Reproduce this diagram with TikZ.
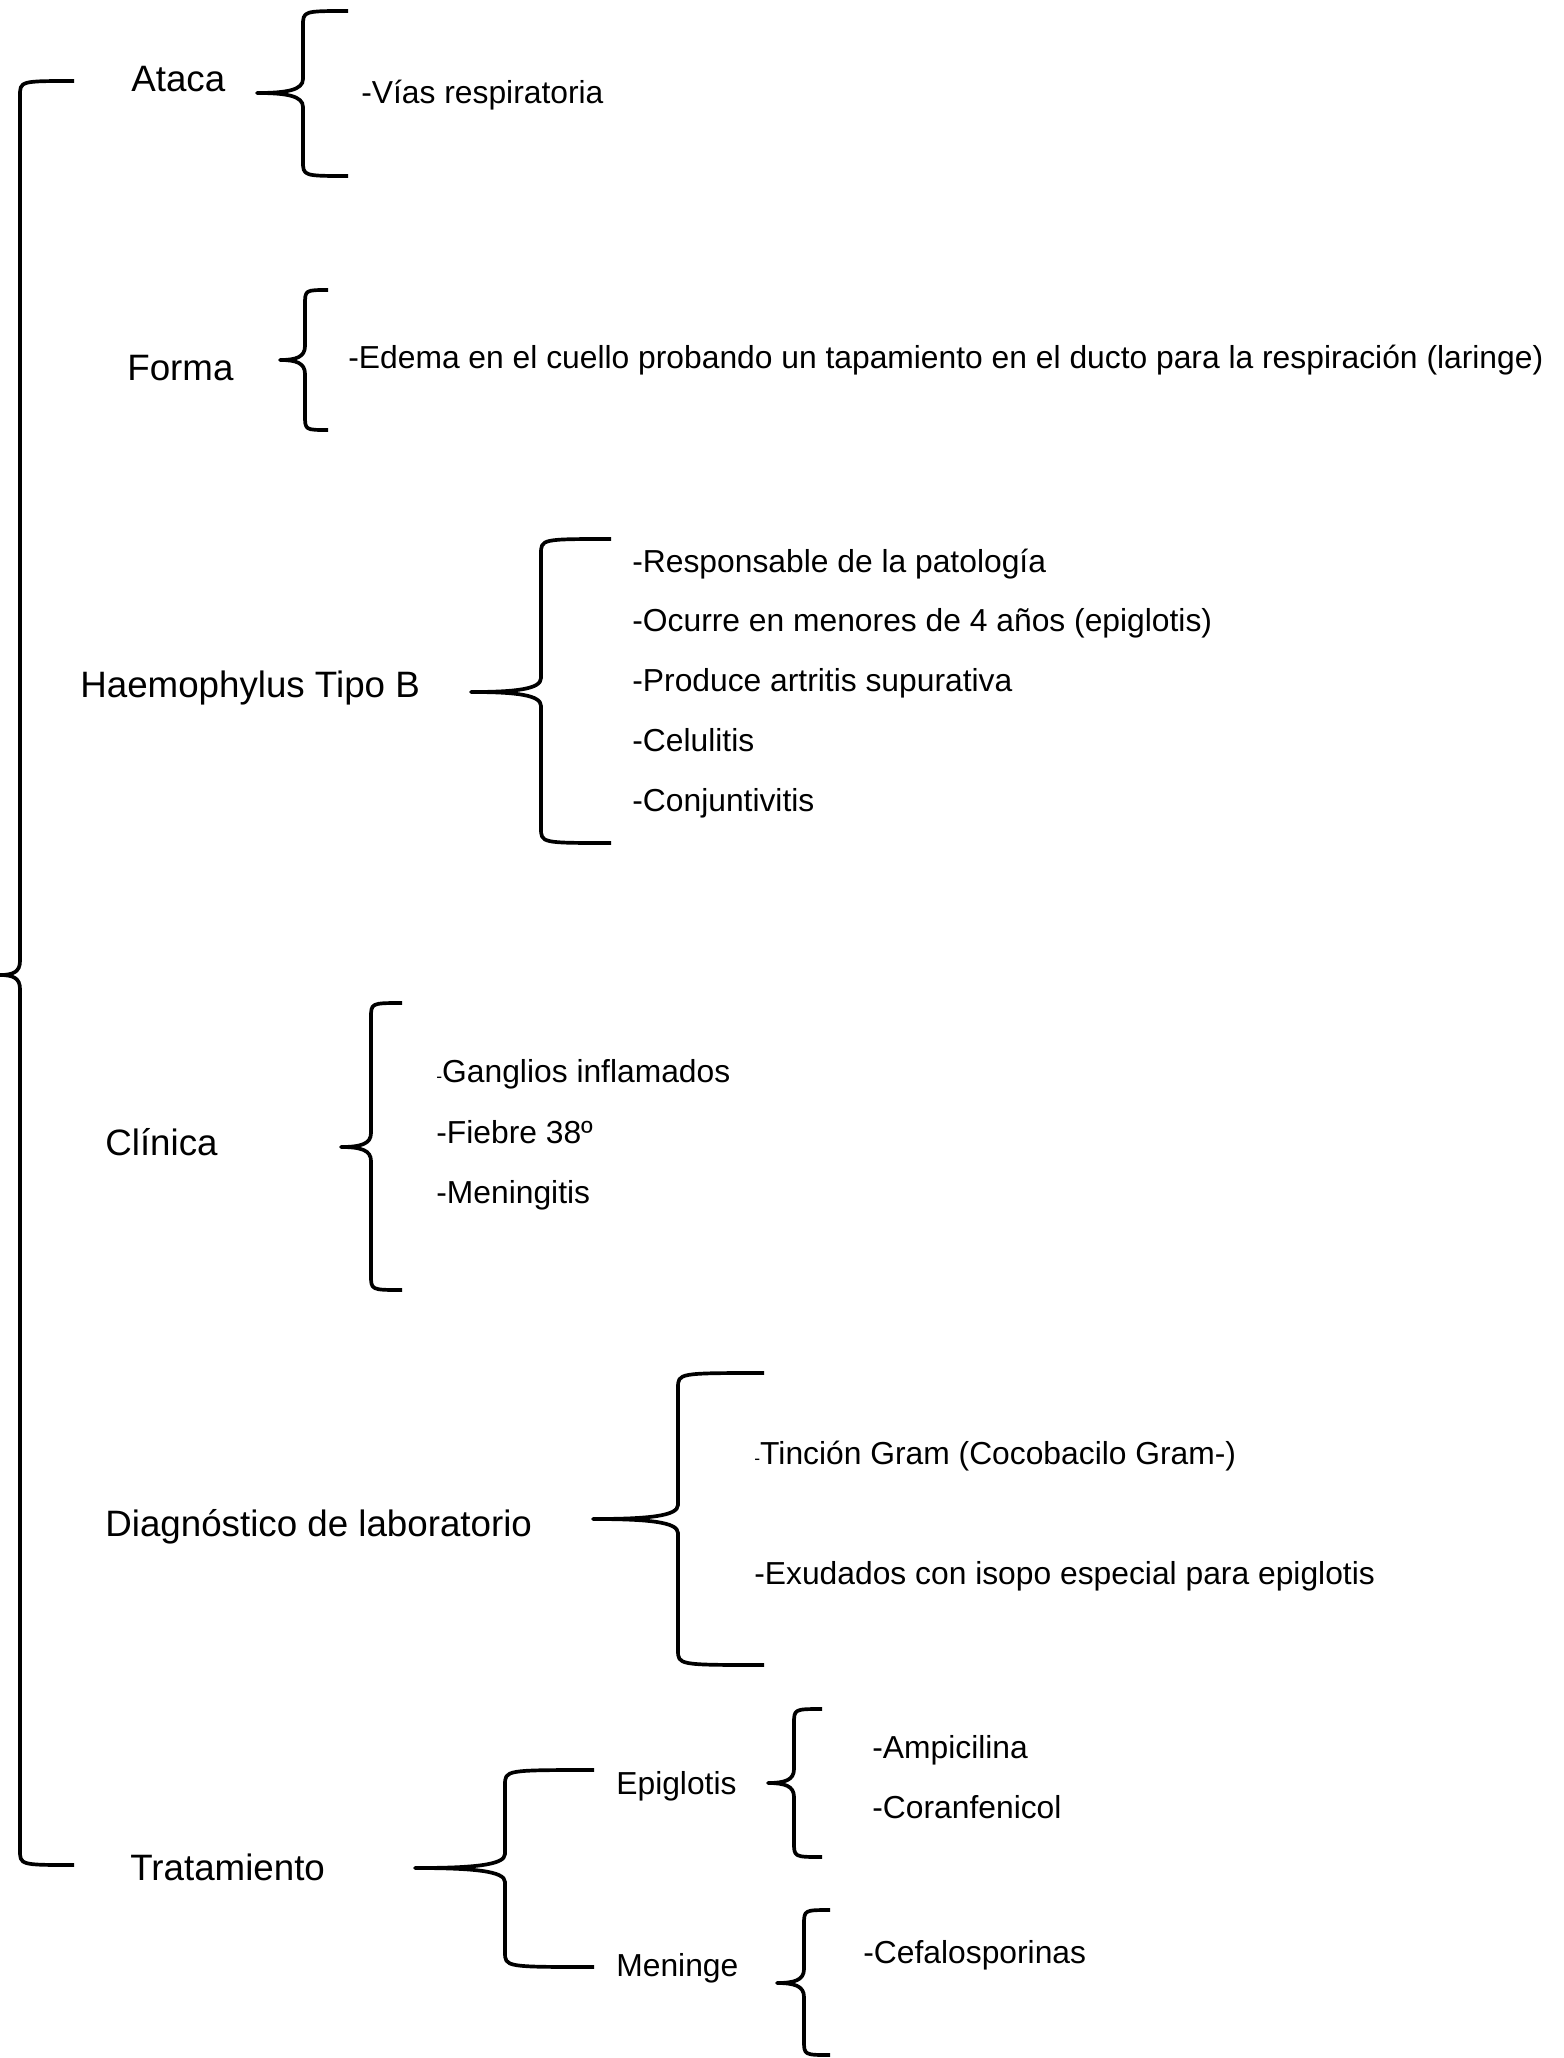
\documentclass[tikz,border=0pt]{standalone}
\usepackage{fontspec}
\setmainfont{Liberation Sans}
\usepackage{tikz}
\usetikzlibrary{calc}
% llave(tip,vertical,end)(top,middle,bottom)
\def\llave(#1,#2,#3)(#4,#5,#6){\draw[llave] (#3,#4) .. controls (#2,#4) .. (#2,#4+15) -- (#2,#5-14) .. controls (#2,#5-3) and ({#2-(#2-#1)*0.35},#5) .. (#1,#5) .. controls ({#2-(#2-#1)*0.35},#5) and (#2,#5+3) .. (#2,#5+14) -- (#2,#6-15) .. controls (#2,#6) .. (#3,#6);}
\def\guion{{\fontsize{10pt}{10pt}\selectfont -}}
\tikzset{
  llave/.style={line width=2.1pt, line join=round},
  tema/.style={anchor=base west, inner sep=0pt, font=\fontsize{20.9pt}{25pt}\selectfont},
  punto/.style={anchor=base west, inner sep=0pt, font=\fontsize{18.1pt}{22pt}\selectfont}
}

\begin{document}
\begin{tikzpicture}[x=0.02cm, y=-0.02cm]
			%%%%% START %%%%%
			\useasboundingbox (0,0) rectangle (1563,2058);
			
			\llave(0,20,74)(81,975,1865);
			
			\node[tema] (ataca) at (131,92) {Ataca};
			\llave(257,303,348)(11,93,176);
			\node[punto] (vias) at (361,104) {-Vías respiratoria};
			
			\node[tema] (forma) at (127,380) {Forma};
			\llave(280,305,328)(290,360,430);
			\node[punto] (edema) at (348,368) {-Edema en el cuello probando un tapamiento en el ducto para la respiración (laringe)};
			
			\node[tema] (haemo) at (80,697) {Haemophylus Tipo B};
			\llave(471,541,611)(539,692,843);
			\node[punto] (resp) at (632,572) {-Responsable de la patología};
			\node[punto] (ocurre) at (632,631) {-Ocurre en menores de 4 años (epiglotis)};
			\node[punto] (produce) at (632,691) {-Produce artritis supurativa};
			\node[punto] (celul) at (632,751) {-Celulitis};
			\node[punto] (conj) at (632,811) {-Conjuntivitis};
			
			\node[tema] (clinica) at (105,1155) {Clínica};
			\llave(341,371,402)(1003,1147,1290);
			\node[punto] (gang) at (436,1082) {\guion Ganglios inflamados};
			\node[punto] (fiebre) at (436,1143) {-Fiebre 38º};
			\node[punto] (mening) at (436,1203) {-Meningitis};
			
			\node[tema] (diag) at (105,1536) {Diagnóstico de laboratorio};
			\llave(593,678,764)(1373,1519,1665);
			\node[punto] (tincion) at (754,1464) {\guion Tinción Gram (Cocobacilo Gram-)};
			\node[punto] (exud) at (754,1584) {-Exudados con isopo especial para epiglotis};
			
			\node[tema] (trat) at (130,1880) {Tratamiento};
			\llave(415,505,594)(1770,1868,1967);
			
			\node[punto] (epi) at (616,1794) {Epiglotis};
			\llave(768,794,822)(1709,1783,1857);
			\node[punto] (ampi) at (872,1758) {-Ampicilina};
			\node[punto] (coran) at (872,1818) {-Coranfenicol};
			
			\node[punto] (men) at (616,1976) {Meninge};
			\llave(777,804,830)(1910,1983,2055);
			\node[punto] (cefal) at (863,1963) {-Cefalosporinas};
			%%%%% END %%%%%
\end{tikzpicture}
\end{document}
